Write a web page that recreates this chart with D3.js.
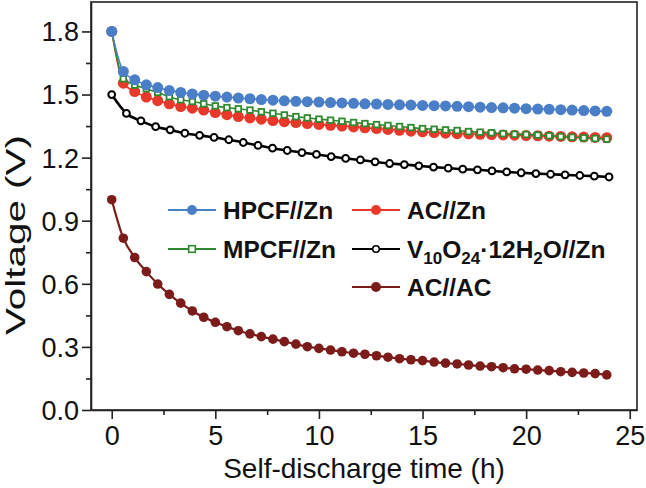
<!DOCTYPE html>
<html><head><meta charset="utf-8">
<script src="https://cdn.jsdelivr.net/npm/d3@7"></script>
<style>html,body{margin:0;padding:0;background:#fff;}svg{display:block;}</style>
</head><body>
<svg id="chart" width="646" height="488"></svg>
<script>
// ---- data ----
const timeA = [0, 0.56, 1.11, 1.67, 2.22, 2.78, 3.33, 3.89, 4.44, 5.00, 5.56, 6.11, 6.67, 7.22, 7.78, 8.33, 8.89, 9.44, 10.00, 10.56, 11.11, 11.67, 12.22, 12.78, 13.33, 13.89, 14.44, 15.00, 15.56, 16.11, 16.67, 17.22, 17.78, 18.33, 18.89, 19.44, 20.00, 20.56, 21.11, 21.67, 22.22, 22.78, 23.33, 23.89];
const timeB = [0, 0.71, 1.41, 2.12, 2.82, 3.53, 4.24, 4.94, 5.65, 6.35, 7.06, 7.76, 8.47, 9.18, 9.88, 10.59, 11.29, 12.00, 12.71, 13.41, 14.12, 14.82, 15.53, 16.24, 16.94, 17.65, 18.35, 19.06, 19.76, 20.47, 21.18, 21.88, 22.59, 23.29, 24.00];
const hpcf = [1.80, 1.61, 1.57, 1.546, 1.533, 1.519, 1.51, 1.503, 1.497, 1.492, 1.488, 1.483, 1.48, 1.476, 1.473, 1.470, 1.468, 1.466, 1.464, 1.462, 1.460, 1.458, 1.456, 1.455, 1.453, 1.451, 1.450, 1.448, 1.447, 1.446, 1.444, 1.442, 1.440, 1.438, 1.437, 1.435, 1.433, 1.431, 1.430, 1.428, 1.426, 1.424, 1.422, 1.420];
const acZn = [1.80, 1.554, 1.514, 1.488, 1.471, 1.456, 1.443, 1.435, 1.426, 1.414, 1.404, 1.395, 1.389, 1.383, 1.376, 1.371, 1.367, 1.362, 1.358, 1.354, 1.350, 1.346, 1.342, 1.338, 1.334, 1.330, 1.326, 1.323, 1.319, 1.316, 1.314, 1.313, 1.311, 1.310, 1.308, 1.307, 1.305, 1.304, 1.302, 1.301, 1.299, 1.298, 1.296, 1.295];
const mpcf = [1.80, 1.575, 1.545, 1.528, 1.51, 1.49, 1.475, 1.467, 1.456, 1.446, 1.438, 1.432, 1.426, 1.418, 1.411, 1.403, 1.395, 1.389, 1.383, 1.378, 1.373, 1.367, 1.362, 1.357, 1.353, 1.348, 1.343, 1.338, 1.335, 1.332, 1.329, 1.324, 1.321, 1.318, 1.314, 1.311, 1.310, 1.307, 1.304, 1.300, 1.297, 1.294, 1.291, 1.288];
const vox = [1.50, 1.41, 1.375, 1.347, 1.332, 1.316, 1.306, 1.296, 1.285, 1.272, 1.258, 1.245, 1.234, 1.224, 1.215, 1.205, 1.196, 1.189, 1.180, 1.172, 1.167, 1.161, 1.155, 1.150, 1.145, 1.142, 1.137, 1.132, 1.128, 1.124, 1.121, 1.118, 1.115, 1.112, 1.108];
const acac = [1.0, 0.817, 0.725, 0.658, 0.599, 0.55, 0.508, 0.471, 0.441, 0.417, 0.396, 0.377, 0.362, 0.349, 0.337, 0.325, 0.313, 0.301, 0.293, 0.285, 0.277, 0.27, 0.265, 0.258, 0.251, 0.244, 0.239, 0.235, 0.228, 0.223, 0.219, 0.214, 0.209, 0.206, 0.201, 0.196, 0.194, 0.190, 0.187, 0.182, 0.179, 0.176, 0.173, 0.167];
const xTicks = [0, 5, 10, 15, 20, 25];
const xMinor = [2.5, 7.5, 12.5, 17.5, 22.5];
const yTicks = [0.0, 0.3, 0.6, 0.9, 1.2, 1.5, 1.8];
const yMinor = [0.15, 0.45, 0.75, 1.05, 1.35, 1.65];
const xTitle = "Self-discharge time (h)";
const yTitle = "Voltage (V)";

// series config (drawing order)
const series = [
  {name: "AC//AC", t: timeA, v: acac, color: "#7b1c1a", marker: "circle", fill: "#7b1c1a", r: 4.8, lw: 2.2},
  {name: "V10O24", t: timeB, v: vox, color: "#000000", marker: "circle", fill: "#ffffff", r: 3.4, lw: 2.6},
  {name: "AC//Zn", t: timeA, v: acZn, color: "#e8382a", marker: "circle", fill: "#e8382a", r: 5.5, lw: 1.6},
  {name: "MPCF//Zn", t: timeA, v: mpcf, color: "#2f8a2f", marker: "square", fill: "#ffffff", r: 2.8, lw: 1.6},
  {name: "HPCF//Zn", t: timeA, v: hpcf, color: "#4a7fc8", marker: "circle", fill: "#4a7fc8", r: 5.5, lw: 1.6}
];

const svg = d3.select("#chart");
const L = 91, R = 637, T = 2, B = 410;
const x = d3.scaleLinear().domain([-1, 25.35]).range([L, R]);
const y = d3.scaleLinear().domain([0, 1.94]).range([B, T]);
const FONT = "Liberation Sans, Arial, Helvetica, sans-serif";

// frame
svg.append("rect").attr("x", L).attr("y", T).attr("width", R - L).attr("height", B - T)
  .attr("fill", "none").attr("stroke", "#222").attr("stroke-width", 1.6);

const plot = svg.append("g");
series.forEach(s => {
  const pts = s.t.map((t, i) => [t, s.v[i]]);
  const line = d3.line().x(d => x(d[0])).y(d => y(d[1])).curve(d3.curveMonotoneX);
  const g = plot.append("g");
  g.append("path").attr("d", line(pts)).attr("fill", "none").attr("stroke", s.color).attr("stroke-width", s.lw);
  if (s.marker === "circle") {
    g.selectAll("circle").data(pts).join("circle")
      .attr("cx", d => x(d[0])).attr("cy", d => y(d[1])).attr("r", s.r)
      .attr("fill", s.fill).attr("stroke", s.color).attr("stroke-width", s.fill === "#ffffff" ? 2 : 0);
  } else {
    g.selectAll("rect").data(pts).join("rect")
      .attr("x", d => x(d[0]) - s.r).attr("y", d => y(d[1]) - s.r)
      .attr("width", 2 * s.r).attr("height", 2 * s.r)
      .attr("fill", s.fill).attr("stroke", s.color).attr("stroke-width", 1.8);
  }
});

// axes
const xAxis = svg.append("g").attr("transform", `translate(0,${B})`)
  .call(d3.axisBottom(x).tickValues(xTicks).tickFormat(d3.format("d")).tickSize(9).tickSizeOuter(0));
svg.append("g").attr("transform", `translate(0,${B})`)
  .call(d3.axisBottom(x).tickValues(xMinor).tickFormat("").tickSize(5).tickSizeOuter(0))
  .select(".domain").remove();
const yAxis = svg.append("g").attr("transform", `translate(${L},0)`)
  .call(d3.axisLeft(y).tickValues(yTicks).tickFormat(d3.format(".1f")).tickSize(9).tickSizeOuter(0));
svg.append("g").attr("transform", `translate(${L},0)`)
  .call(d3.axisLeft(y).tickValues(yMinor).tickFormat("").tickSize(5).tickSizeOuter(0))
  .select(".domain").remove();
svg.selectAll(".domain").attr("stroke", "#222").attr("stroke-width", 1.6);
svg.selectAll(".tick line").attr("stroke", "#222").attr("stroke-width", 1.6);
xAxis.selectAll(".tick text").attr("font-family", FONT).attr("font-size", 27).attr("fill", "#111").attr("dy", "0.92em").attr("y", 10);
yAxis.selectAll(".tick text").attr("font-family", FONT).attr("font-size", 27).attr("fill", "#111").attr("x", -12).attr("dy", "0.35em");

// titles
svg.append("text").attr("x", 364).attr("y", 478).attr("text-anchor", "middle")
  .attr("font-family", FONT).attr("font-size", 28).attr("fill", "#111").text(xTitle);
svg.append("text").attr("transform", `translate(25,${235}) rotate(-90)`).attr("text-anchor", "middle")
  .attr("font-family", FONT).attr("font-size", 28).attr("fill", "#111")
  .attr("textLength", 200).attr("lengthAdjust", "spacingAndGlyphs").text(yTitle);

// legend
const legendItems = [
  {s: series[4], col: 0, row: 0},
  {s: series[2], col: 1, row: 0},
  {s: series[3], col: 0, row: 1},
  {s: series[1], col: 1, row: 1},
  {s: series[0], col: 1, row: 2}
];
const colX = [168, 352], rowY = [210, 249, 287];
legendItems.forEach(it => {
  const s = it.s, lx = colX[it.col], ly = rowY[it.row];
  const g = svg.append("g");
  g.append("line").attr("x1", lx).attr("x2", lx + 48).attr("y1", ly).attr("y2", ly)
    .attr("stroke", s.color).attr("stroke-width", 1.8);
  if (s.marker === "circle") {
    const rr = s.fill === "#ffffff" ? 3.3 : 5;
    g.append("circle").attr("cx", lx + 24).attr("cy", ly).attr("r", rr)
      .attr("fill", s.fill).attr("stroke", s.color).attr("stroke-width", s.fill === "#ffffff" ? 1.6 : 0);
  } else {
    g.append("rect").attr("x", lx + 24 - 3.3).attr("y", ly - 3.3).attr("width", 6.6).attr("height", 6.6)
      .attr("fill", "#fff").attr("stroke", s.color).attr("stroke-width", 1.6);
  }
  const tx = g.append("text").attr("x", lx + 55).attr("y", ly + 8.5)
    .attr("font-family", FONT).attr("font-weight", "bold").attr("font-size", 24.5).attr("fill", "#111");
  if (s.name === "V10O24") {
    tx.append("tspan").text("V");
    tx.append("tspan").attr("font-size", 17).attr("dy", 6).text("10");
    tx.append("tspan").attr("dy", -6).text("O");
    tx.append("tspan").attr("font-size", 17).attr("dy", 6).text("24");
    tx.append("tspan").attr("dy", -6).text("·12H");
    tx.append("tspan").attr("font-size", 17).attr("dy", 6).text("2");
    tx.append("tspan").attr("dy", -6).text("O//Zn");
  } else {
    tx.text(s.name);
  }
});
</script>
</body></html>
